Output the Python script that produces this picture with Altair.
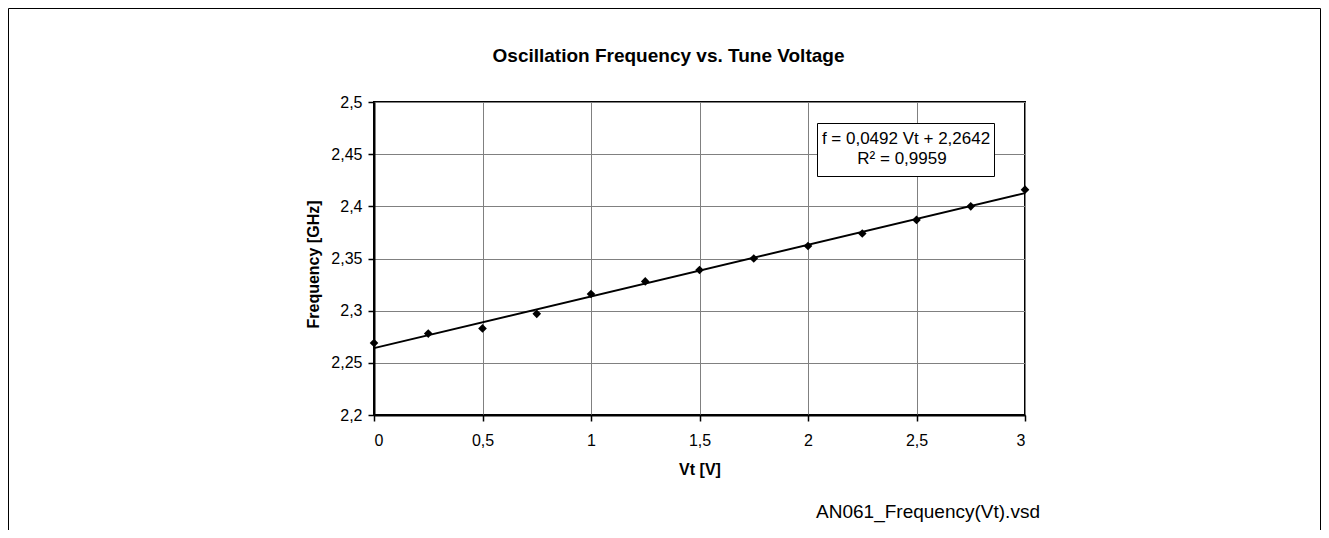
import altair as alt
import pandas as pd

# ---- data ----
vt = [0, 0.25, 0.5, 0.75, 1.0, 1.25, 1.5, 1.75, 2.0, 2.25, 2.5, 2.75, 3.0]
freq = [2.269, 2.278, 2.283, 2.297, 2.316, 2.328, 2.339, 2.350, 2.362, 2.374, 2.387, 2.400, 2.416]
x_ticks = [0, 0.5, 1, 1.5, 2, 2.5, 3]
y_ticks = [2.2, 2.25, 2.3, 2.35, 2.4, 2.45, 2.5]
x_domain = [0, 3]
y_domain = [2.2, 2.5]

title_text = "Oscillation Frequency vs. Tune Voltage"
x_title = "Vt [V]"
y_title = "Frequency [GHz]"
eq_line1 = "f = 0,0492 Vt + 2,2642"
eq_line2 = "R\u00b2 = 0,9959"
file_label = "AN061_Frequency(Vt).vsd"

df = pd.DataFrame({"vt": vt, "freq": freq})
one = pd.DataFrame({"k": [0]})

FONT = "Liberation Sans, Arial, Helvetica, sans-serif"
comma_expr = "replace(format(datum.value, '~g'), '.', ',')"

X = alt.X(
    "vt:Q",
    scale=alt.Scale(domain=x_domain, nice=False, zero=False),
    axis=alt.Axis(
        values=x_ticks, title=x_title, labelExpr=comma_expr,
        labelPadding=11, titleY=59, titleBaseline="alphabetic",
    ),
)
Y = alt.Y(
    "freq:Q",
    scale=alt.Scale(domain=y_domain, nice=False, zero=False),
    axis=alt.Axis(
        values=y_ticks, title=y_title, labelExpr=comma_expr,
        labelPadding=6, titleX=-56, titleY=162, titleAngle=270,
        titleAlign="center", titleBaseline="alphabetic",
    ),
)

points = alt.Chart(df).mark_point(
    shape="diamond", filled=True, size=75, color="black", opacity=1
).encode(x=X, y=Y)

trend = alt.Chart(df).transform_regression(
    "vt", "freq", extent=x_domain
).mark_line(color="black", strokeWidth=2).encode(x=X, y=Y)

box = alt.Chart(one).mark_rect(
    fill="white", stroke="black", strokeWidth=1
).encode(x=alt.value(443.5), x2=alt.value(620.5), y=alt.value(21.5), y2=alt.value(74.5))

eq1 = alt.Chart(one).mark_text(
    font=FONT, fontSize=17, align="center", baseline="alphabetic", color="black"
).encode(x=alt.value(532), y=alt.value(42), text=alt.value(eq_line1))

eq2 = alt.Chart(one).mark_text(
    font=FONT, fontSize=17, align="center", baseline="alphabetic", color="black"
).encode(x=alt.value(528), y=alt.value(62), text=alt.value(eq_line2))

title = alt.Chart(one).mark_text(
    font=FONT, fontSize=19, fontWeight="bold", align="center",
    baseline="alphabetic", color="black"
).encode(x=alt.value(294.5), y=alt.value(-40), text=alt.value(title_text))

fname = alt.Chart(one).mark_text(
    font=FONT, fontSize=19, align="center", baseline="alphabetic", color="black"
).encode(x=alt.value(554), y=alt.value(415.5), text=alt.value(file_label))

frame_left = alt.Chart(one).mark_rule(color="black", strokeWidth=1).encode(
    x=alt.value(-365.5), y=alt.value(-93.5), y2=alt.value(440)
)
frame_top = alt.Chart(one).mark_rule(color="black", strokeWidth=1).encode(
    x=alt.value(-365.5), x2=alt.value(946.5), y=alt.value(-93.5)
)
frame_right = alt.Chart(one).mark_rule(color="black", strokeWidth=1).encode(
    x=alt.value(946.5), y=alt.value(-93.5), y2=alt.value(440)
)

chart = alt.layer(
    points, trend, box, eq1, eq2, title, fname, frame_left, frame_top, frame_right
).properties(
    width=651,
    height=313,
    autosize=alt.AutoSizeParams(type="none"),
    padding={"left": 366, "top": 94, "right": 296, "bottom": 115},
    background="white",
).configure_view(
    stroke="black", strokeWidth=2
).configure_axis(
    labelFont=FONT, labelFontSize=16, labelColor="black",
    titleFont=FONT, titleFontSize=16, titleFontWeight="bold", titleColor="black",
    gridColor="#808080", gridWidth=1, gridOpacity=1,
    domainColor="black", domainWidth=2,
    tickColor="black", tickSize=6, tickWidth=1.5,
)

chart.save("out.html", embed_options={"renderer": "svg", "actions": False})
